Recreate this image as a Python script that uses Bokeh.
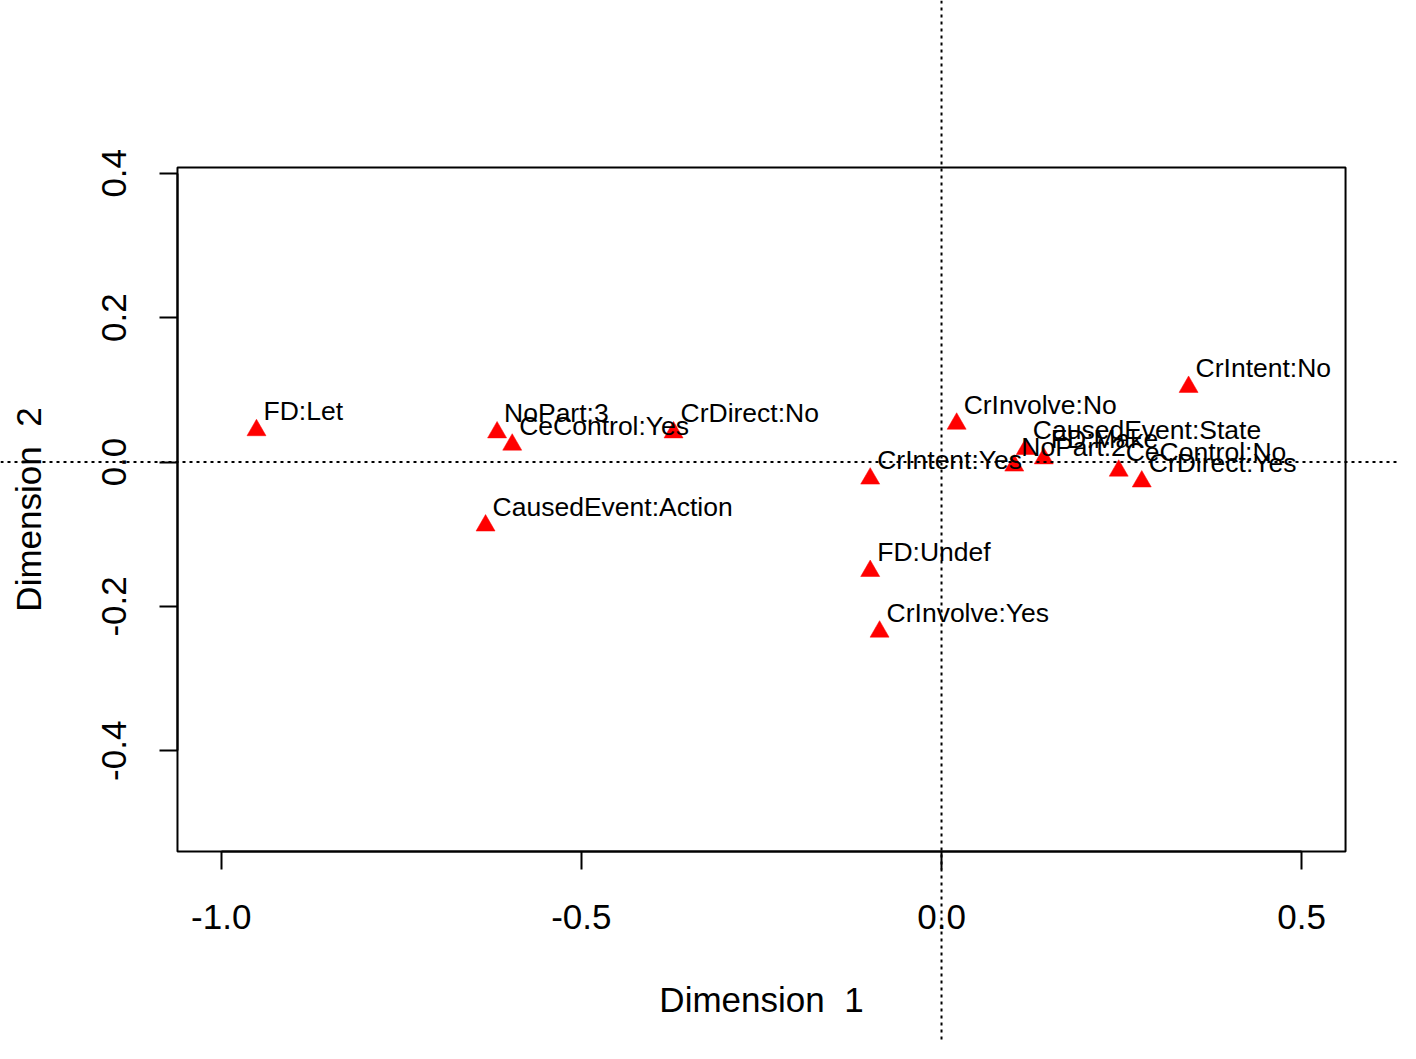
from bokeh.plotting import figure
from bokeh.models import LinearAxis, FixedTicker, Span, ColumnDataSource, Range1d
from bokeh.core.properties import value
from bokeh.embed import file_html
from bokeh.resources import INLINE

# ---- data ----
labels = ["FD:Let", "NoPart:3", "CeControl:Yes", "CrDirect:No", "CausedEvent:Action",
          "CrIntent:Yes", "FD:Undef", "CrInvolve:Yes", "CrInvolve:No", "CrIntent:No",
          "CausedEvent:State", "NoPart:2", "FD:Make", "CeControl:No", "CrDirect:Yes"]
dim1 = [-0.951, -0.617, -0.596, -0.372, -0.633,
        -0.099, -0.099, -0.086, 0.021, 0.343,
        0.117, 0.101, 0.142, 0.246, 0.278]
dim2 = [0.044, 0.041, 0.024, 0.041, -0.088,
        -0.023, -0.151, -0.235, 0.053, 0.104,
        0.018, -0.005, 0.005, -0.012, -0.027]

x_ticks = [-1.0, -0.5, 0.0, 0.5]
x_tick_labels = ["-1.0", "-0.5", "0.0", "0.5"]
y_ticks = [-0.4, -0.2, 0.0, 0.2, 0.4]
y_tick_labels = ["-0.4", "-0.2", "0.0", "0.2", "0.4"]
x_title = "Dimension\u00a0\u00a01"
y_title = "Dimension\u00a0\u00a02"

# plotting region (R "usr" box)
box_x = (-1.0607, 0.5609)
box_y = (-0.5396, 0.4079)

FONT = "Liberation Sans"

p = figure(width=1400, height=1043, output_backend="svg", toolbar_location=None,
           x_axis_type=None, y_axis_type=None,
           x_range=Range1d(-1.3064, 0.6372), y_range=Range1d(-0.8055, 0.6393),
           min_border=0, outline_line_color=None, background_fill_color="white",
           border_fill_color="white")

# box
p.quad(left=[box_x[0]], right=[box_x[1]], bottom=[box_y[0]], top=[box_y[1]],
       fill_color=None, line_color="black", line_width=2)

src = ColumnDataSource(dict(x=dim1, y=dim2, label=labels))
p.scatter("x", "y", source=src, marker="triangle", size=19,
          fill_color="red", line_color="red", line_width=0.5)
p.text("x", "y", text="label", source=src, x_offset=7, y_offset=-19,
       text_align="left", text_baseline="alphabetic",
       text_font=value(FONT), text_font_size=value("26.5px"), text_color="black")

# dotted reference lines
p.add_layout(Span(location=0, dimension="height", line_color="black",
                  line_width=2, line_dash="3 4"))
p.add_layout(Span(location=0, dimension="width", line_color="black",
                  line_width=2, line_dash="3 4"))

def style(ax):
    ax.axis_line_width = 2
    ax.axis_line_color = "black"
    ax.major_tick_line_width = 2
    ax.major_tick_line_color = "black"
    ax.major_tick_out = 18
    ax.major_tick_in = 0
    ax.minor_tick_out = 0
    ax.minor_tick_in = 0
    ax.major_label_text_font = FONT
    ax.major_label_text_font_size = "35px"
    ax.major_label_text_color = "black"
    ax.axis_label_text_font = FONT
    ax.axis_label_text_font_size = "35px"
    ax.axis_label_text_font_style = "normal"
    ax.axis_label_text_color = "black"

xa = LinearAxis(fixed_location=box_y[0], bounds=(x_ticks[0], x_ticks[-1]),
                ticker=FixedTicker(ticks=x_ticks),
                major_label_overrides={t: l for t, l in zip(x_ticks, x_tick_labels)},
                axis_label=x_title)
style(xa)
xa.major_label_standoff = 35
xa.axis_label_standoff = 48
p.add_layout(xa, "below")

ya = LinearAxis(fixed_location=box_x[0], bounds=(y_ticks[0], y_ticks[-1]),
                ticker=FixedTicker(ticks=y_ticks),
                major_label_overrides={t: l for t, l in zip(y_ticks, y_tick_labels)},
                major_label_orientation="vertical")
style(ya)
ya.major_label_standoff = 33
p.add_layout(ya, "left")

# y-axis title, centred on the plotting region like R does
yt = LinearAxis(fixed_location=box_x[0], bounds=box_y,
                ticker=FixedTicker(ticks=[]), axis_label=y_title)
style(yt)
yt.axis_line_color = None
yt.major_tick_out = 0
yt.major_label_text_font_size = "0px"
yt.axis_label_standoff = 130
p.add_layout(yt, "left")

open("out.html", "w").write(file_html(p, INLINE))
